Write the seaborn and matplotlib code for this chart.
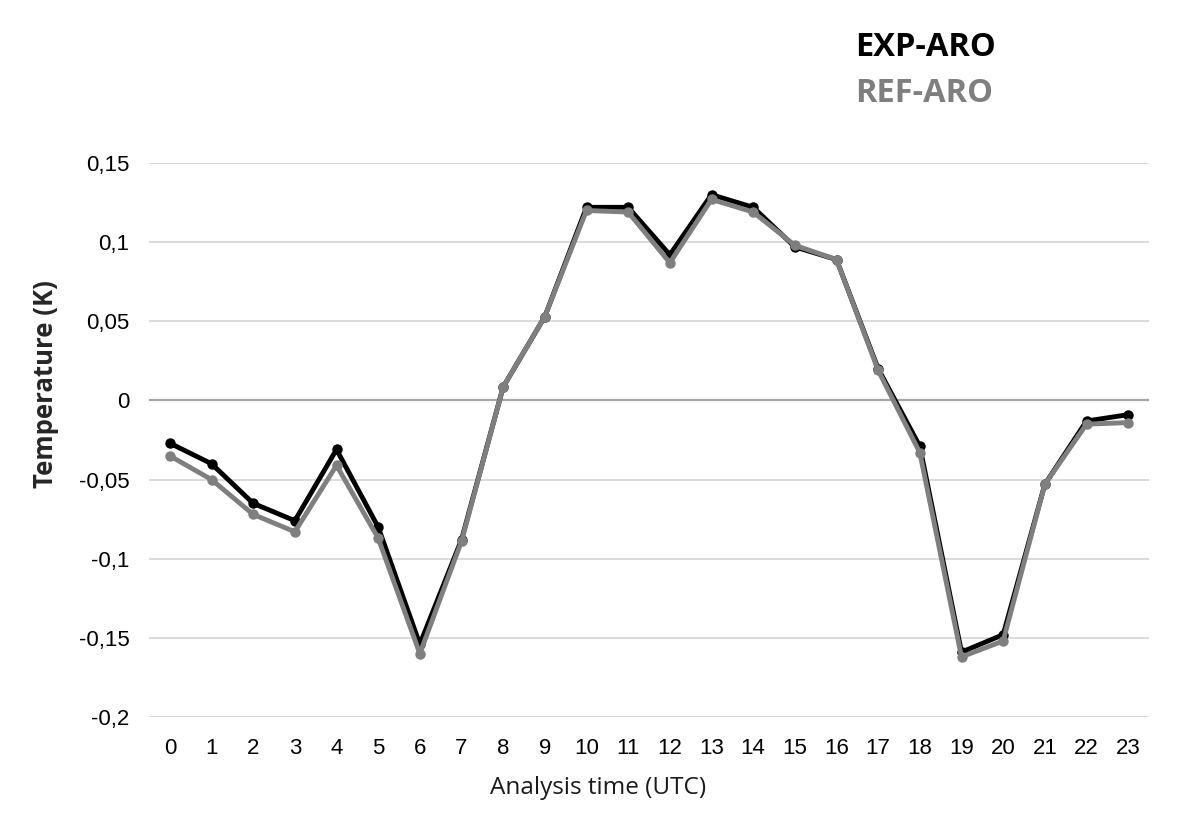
import numpy as np
import pandas as pd
import seaborn as sns
from matplotlib import pyplot as plt
from matplotlib.ticker import FuncFormatter

hours = list(range(24))
exp_aro = [-0.027, -0.040, -0.065, -0.076, -0.031, -0.080, -0.154, -0.088,
           0.0085, 0.053, 0.122, 0.122, 0.092, 0.130, 0.122, 0.097,
           0.089, 0.020, -0.029, -0.159, -0.148, -0.053, -0.013, -0.009]
ref_aro = [-0.035, -0.050, -0.072, -0.083, -0.041, -0.087, -0.160, -0.089,
           0.0085, 0.053, 0.120, 0.119, 0.087, 0.127, 0.119, 0.098,
           0.089, 0.019, -0.033, -0.162, -0.152, -0.053, -0.015, -0.014]
series_names = ["EXP-ARO", "REF-ARO"]
colors = {"EXP-ARO": "#000000", "REF-ARO": "#7f7f7f"}

df = pd.DataFrame({
    "hour": hours * 2,
    "temp": exp_aro + ref_aro,
    "run": [series_names[0]] * 24 + [series_names[1]] * 24,
})

sns.set_style("white")
plt.rcParams['font.family'] = ['Liberation Sans', 'DejaVu Sans']
title_font = ["Open Sans", "DejaVu Sans"]

fig = plt.figure(figsize=(12, 8.24), dpi=100)
ax = fig.add_axes([149 / 1200, 107 / 824, 1000 / 1200, 554 / 824])

# EXP first, REF drawn on top of it
for name in series_names:
    sub = df[df["run"] == name]
    sns.lineplot(data=sub, x="hour", y="temp", color=colors[name], ax=ax,
                 linewidth=3.5, marker="o", markersize=7.5,
                 markeredgewidth=0, legend=False)

ax.set_xlim(-0.5, 23.5)
ax.set_ylim(-0.2, 0.15)
ax.set_xticks(hours)
ax.set_yticks(np.arange(-0.2, 0.151, 0.05))
ax.yaxis.set_major_formatter(FuncFormatter(
    lambda v, p: "0" if abs(v) < 1e-9 else ("%g" % round(v, 2)).replace(".", ",")))
ax.tick_params(axis="both", length=0, labelsize=16, colors="#000000")
ax.tick_params(axis="x", pad=15)
ax.tick_params(axis="y", pad=14)
ax.grid(axis="y", color="#d9d9d9", linewidth=1.3)
ax.set_axisbelow(True)
ax.axhline(0, color="#a6a6a6", linewidth=1.6, zorder=1)
for s in ax.spines.values():
    s.set_visible(False)

ax.set_xlabel("")
ax.set_ylabel("")
fig.text(46 / 1200, 1 - 384 / 824, "Temperature (K)", rotation=90,
         ha="center", va="center", fontsize=18.5, fontweight="bold",
         family=title_font)
fig.text(598 / 1200, 1 - 788 / 824, "Analysis time (UTC)", ha="center",
         va="center", fontsize=17.5, color="#1a1a1a", family=title_font)

fig.text(855 / 1200, 1 - 47 / 824, "EXP-ARO", ha="left", va="center",
         fontsize=23.5, fontweight="bold", color=colors["EXP-ARO"],
         family=title_font)
fig.text(855 / 1200, 1 - 93 / 824, "REF-ARO", ha="left", va="center",
         fontsize=23.5, fontweight="bold", color=colors["REF-ARO"],
         family=title_font)

plt.savefig("out.png", dpi=100)
